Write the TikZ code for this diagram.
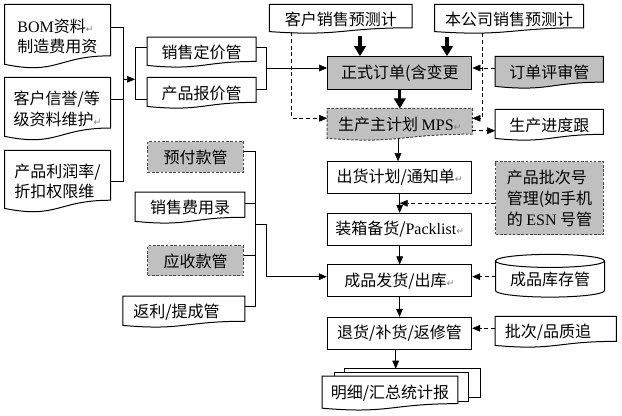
\documentclass[tikz,border=0pt]{standalone}
\usepackage{fontspec}
\setmainfont{Noto Sans CJK SC}
\newfontfamily\lat{Liberation Serif}
\newfontfamily\symfont{DejaVu Sans}
\usetikzlibrary{arrows.meta,calc,backgrounds}
\definecolor{boxgray}{RGB}{192,192,192}
\definecolor{dashgray}{RGB}{70,70,70}
\newcommand{\pmark}{{\symfont\fontsize{7}{7}\selectfont\textcolor{gray}{↵}}}
% wavy "document" outline behind a node
\newcommand{\docline}[2][]{%
  \begin{pgfonlayer}{background}
  \draw[line width=0.75pt,#1] let \p1=(#2.north west), \p2=(#2.south east) in
    (\p1) -- (\x2,\y1) -- (\x2,{\y2+0.198*(\y1-\y2)})
    .. controls ({0.5*\x1+0.5*\x2},{\y2+0.198*(\y1-\y2)}) and ({0.5*\x1+0.5*\x2},{\y2-0.108*(\y1-\y2)})
    .. (\x1,{\y2+0.066*(\y1-\y2)}) -- cycle;
  \end{pgfonlayer}}
% cylinder outline, node = body below the top ellipse
\newcommand{\cylline}[1]{%
  \begin{pgfonlayer}{background}
  \draw[line width=0.75pt] let \p1=(#1.north west), \p2=(#1.south east) in
    (\x1,\y1) arc[start angle=180,end angle=-180,x radius={0.5*(\x2-\x1)},y radius=4.9pt]
    (\x1,\y1) -- (\x1,{\y2+4.9pt}) arc[start angle=180,end angle=360,x radius={0.5*(\x2-\x1)},y radius=4.9pt] -- (\x2,\y1);
  \end{pgfonlayer}}

\begin{document}
\begin{tikzpicture}[x=0.75pt, y=-0.75pt, line width=0.75pt,
  every node/.style={inner sep=0pt, font=\fontsize{12}{15.5}\selectfont},
  sz/.style 2 args={minimum width=#1*0.75pt, minimum height=#2*0.75pt},
  proc/.style={draw},
  graybox/.style={draw=dashgray, fill=boxgray, dash pattern=on 2pt off 1.2pt},
  arr/.style={-{Triangle[length=6pt,width=5pt]}},
  bigarr/.style={-{Triangle[length=7.5pt,width=8.5pt]}, line width=2.5pt},
  dasharr/.style={arr, dash pattern=on 3pt off 2pt}]
\useasboundingbox (0,0) rectangle (622,416);

% left column
\node[sz={105}{63}, align=left] (bom) at (57.5,36.5) {{\lat BOM}资料\pmark\\制造费用资};
\node[sz={105}{62}, align=left] (credit) at (57.5,109) {客户信誉/等\\级资料维护\pmark};
\node[sz={105}{61}, align=left] (profit) at (57.5,181.5) {产品利润率/\\折扣权限维};
\node[sz={108}{29.3}] (price) at (201.7,52.3) {销售定价管};
\node[sz={108}{30}] (quote) at (201.7,93) {产品报价管};

\node[graybox, sz={95.6}{30.6}] (prepay) at (195.5,157) {预付款管};
\node[sz={108.6}{30.3}] (expense) at (190,207.8) {销售费用录};
\node[graybox, sz={95.6}{30}] (receiv) at (195.5,261) {应收款管};
\node[sz={121}{30.3}, text width=75.75pt, align=left] (rebate) at (183.8,311.8) {返利/提成管};

% top
\node[sz={141.7}{28}] (custfc) at (340.8,19) {客户销售预测计};
\node[sz={148}{28}] (compfc) at (509,19) {本公司销售预测计};

% main column
\node[proc, fill=boxgray, sz={144.3}{32.6}] (order) at (399.8,73) {正式订单(含变更};
\node[sz={144.3}{31}] (mps) at (399.8,124.5) {生产主计划 {\lat MPS}\pmark};
\node[proc, sz={144}{31.6}] (ship) at (399.7,177.5) {出货计划/通知单\pmark};
\node[proc, sz={144}{32.4}] (pack) at (399.7,229.5) {装箱备货/{\lat Packlist}\pmark};
\node[proc, sz={144.4}{31.7}] (dispatch) at (399.5,280.8) {成品发货/出库\pmark};
\node[proc, sz={144.4}{31.7}] (ret) at (399.5,333.2) {退货/补货/返修管};
\node[sz={134.6}{33.3}] (report) at (390,393.3) {明细/汇总统计报};

% right column
\node[sz={107.3}{31}] (review) at (549.3,72.5) {订单评审管};
\node[sz={107.3}{30}] (progress) at (549.3,125) {生产进度跟};
\node[graybox, sz={107.6}{73.3}, align=left] (batch) at (549.5,198.3) {产品批次号\\管理(如手机\\的 {\lat ESN} 号管};
\node[sz={108}{35.2}] (stock) at (550,279) {成品库存管};
\node[sz={120.3}{30}, text width=76.3pt, align=left] (trace) at (555.8,332) {批次/品质追};

% outlines
\docline{bom}
\docline{credit}
\docline{profit}
\docline{price}
\docline{quote}
\docline{expense}
\docline{rebate}
\docline{custfc}
\docline{compfc}
\docline[graybox]{mps}
\docline[fill=boxgray]{review}
\docline{progress}
\docline{trace}
\cylline{stock}
\begin{pgfonlayer}{background}
\draw[fill=white] ([shift={(22.3,-7.4)}]report.north west) rectangle ([shift={(22,-13.3)}]report.south east);
\draw[fill=white] ([shift={(11.6,-3.4)}]report.north west) rectangle ([shift={(10.4,-9.5)}]report.south east);
\end{pgfonlayer}
\docline[fill=white]{report}

% brackets on the left
\coordinate (a1) at (123,27);
\coordinate (a2) at (123,99);
\coordinate (a3) at (123,181.7);
\coordinate (a4) at (123,79.3);
\draw (bom.east |- a1) -- (a1) -- (a3) -- (profit.east |- a3);
\draw (credit.east |- a2) -- (a2);
\coordinate (b1) at (135,47.7);
\coordinate (b2) at (135,99);
\draw[arr] (a4) -- (a4 -| b1);
\draw (price.west |- b1) -- (b1) -- (b2) -- (quote.west |- b2);
\coordinate (c1) at (266.7,47.7);
\coordinate (c2) at (266.7,89);
\coordinate (c3) at (266.7,68);
\draw (price.east |- c1) -- (c1) -- (c2) -- (quote.east |- c2);
\draw[arr] (c3) -- (c3 -| order.west);

\coordinate (d1) at (255.7,151.7);
\coordinate (d2) at (255.7,203.3);
\coordinate (d3) at (255.7,255.7);
\coordinate (d4) at (255.7,306.7);
\coordinate (d5) at (255.7,224.3);
\coordinate (d6) at (266.7,224.3);
\coordinate (s1) at ([shift={(0,-2.3)}]stock.west);
\draw (prepay.east |- d1) -- (d1) -- (d4) -- (rebate.east |- d4);
\draw (expense.east |- d2) -- (d2);
\draw (receiv.east |- d3) -- (d3);
\draw[arr] (d5) -- (d6) |- (s1 -| dispatch.west);

% forecasts and order
\coordinate (f1) at ([shift={(19.2,3)}]custfc.south);
\coordinate (f2) at ([shift={(-62,3.5)}]compfc.south);
\draw[bigarr] (f1) -- (f1 |- order.north);
\draw[bigarr] (f2) -- (f2 |- order.north);
\draw[bigarr] (order.south) -- (order.south |- mps.north);
\coordinate (m1) at ([shift={(0,-6.2)}]mps.west);
\coordinate (m2) at ([shift={(0,-6.2)}]mps.east);
\draw[dasharr] ([shift={(-49.1,-1)}]custfc.south) |- (m1);
\draw[dasharr] ([shift={(-26.3,0)}]compfc.south) |- (m2);
\coordinate (r1) at ([shift={(0,-4.5)}]review.west);
\draw[dasharr] (r1) -- (r1 -| order.east);
\coordinate (p1) at ([shift={(0,6.2)}]mps.east);
\draw[dasharr] (p1) -- (p1 -| progress.west);

% main flow
\coordinate (m3) at ([shift={(-1.8,-2)}]mps.south);
\draw[arr] (m3) -- (m3 |- ship.north);
\draw[arr] (ship.south) -- (pack.north);
\coordinate (q1) at ($(ship.south)!0.5!(pack.north)$);
\draw[dasharr] (q1 -| batch.west) -- (q1);
\draw[arr] (pack.south) -- (pack.south |- dispatch.north);
\draw[dasharr] (s1) -- (s1 -| dispatch.east);
\draw[arr] (dispatch.south) -- (ret.north);
\coordinate (t1) at ([shift={(0,-3.7)}]trace.west);
\draw[dasharr] (t1) -- (t1 -| ret.east);
\coordinate (r2) at ([shift={(-3.8,0)}]ret.south);
\coordinate (rb) at ([shift={(22.3,-7.4)}]report.north west);
\draw[arr] (r2) -- (r2 |- rb);
\end{tikzpicture}
\end{document}
